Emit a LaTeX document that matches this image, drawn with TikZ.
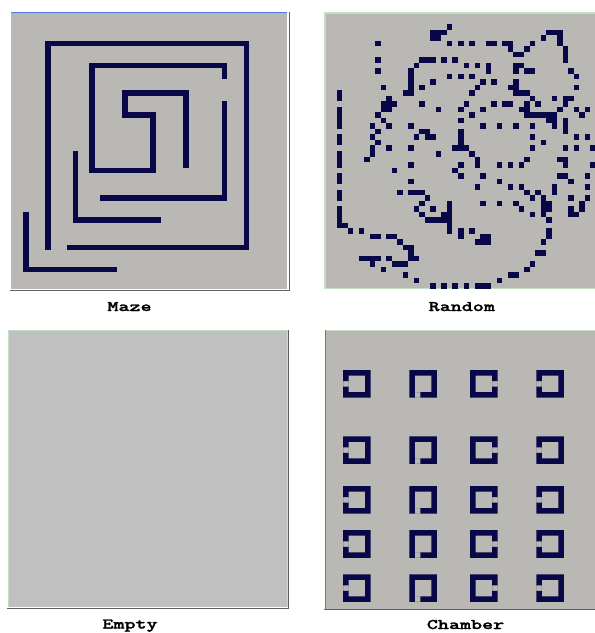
\documentclass[tikz,border=0pt]{standalone}
\usepackage{fontspec}
\newfontfamily\lblfont{lmmonolt10-bold.otf}[FakeStretch=1.43,FakeBold=1.6]
\definecolor{panelgray}{RGB}{186,184,181}
\definecolor{emptygray}{RGB}{192,192,192}
\definecolor{wallblue}{RGB}{8,8,72}
\definecolor{edgeblue}{RGB}{80,120,230}
\definecolor{edgegreen}{RGB}{196,224,196}
\definecolor{shadowgray}{RGB}{96,96,96}

\begin{document}
\begin{tikzpicture}[
  x=1pt, y=-1pt,
  wall/.style={fill=wallblue},
  panel/.style={fill=panelgray},
  cellgrid/.style={x=5.52pt,y=-5.52pt},
  caption/.style={font=\fontsize{14.7}{16}\selectfont\lblfont,anchor=base,inner sep=0pt}
]
  % Page: 595 x 633, y grows downwards, one unit = one pixel.
  \useasboundingbox (0,0) rectangle (595,633);

  % ---- Maze (top left) ----
  \fill[panel] (11,12) rectangle (287,289);
  \draw[edgeblue] (11,12.5) -- (288,12.5);
  \draw[white] (287.5,12) -- (287.5,289);
  \draw[shadowgray] (10,289.8) -- (289.5,289.8) -- (289.5,12);
  \begin{scope}[shift={(12,13)},cellgrid]
    % walls as cell ranges (col,row) rectangle (col+1,row+1)
    \fill[wall] (6,5) rectangle (43,6);
    \fill[wall] (6,5) rectangle (7,43);
    \fill[wall] (42,5) rectangle (43,43);
    \fill[wall] (10,42) rectangle (43,43);
    \fill[wall] (14,9) rectangle (39,10);
    \fill[wall] (38,9) rectangle (39,12);
    \fill[wall] (14,9) rectangle (15,29);
    \fill[wall] (14,28) rectangle (26,29);
    \fill[wall] (25,18) rectangle (26,29);
    \fill[wall] (20,18) rectangle (26,19);
    \fill[wall] (20,14) rectangle (21,19);
    \fill[wall] (20,14) rectangle (32,15);
    \fill[wall] (31,14) rectangle (32,28);
    \fill[wall] (38,16) rectangle (39,34);
    \fill[wall] (16,33) rectangle (39,34);
    \fill[wall] (11,25) rectangle (12,38);
    \fill[wall] (11,37) rectangle (27,38);
    \fill[wall] (2,36) rectangle (3,47);
    \fill[wall] (2,46) rectangle (19,47);
  \end{scope}
  \node[caption] (mazecap) at (129.5,311) {Maze};

  % ---- Random (top right) ----
  \fill[panel] (324,12) rectangle (596,289);
  \draw[edgegreen,line width=1.5pt] (596,12.75) -- (324.75,12.75) -- (324.75,288.5) -- (596,288.5);
  \begin{scope}[shift={(325.5,13)},cellgrid]
    \foreach \r/\cl in {
      2/{22}, 3/{19,20,21,40,41,42}, 4/{19,20,39,42},
      5/{9,22,24,26,29,30,32,33,37,42}, 6/{33,36,43}, 7/{34,35,43},
      8/{9,17,18,19,21,23,43}, 9/{16,25,27,29,34,35},
      10/{9,15,29,34,36,37,44}, 11/{15,22,24,26,45},
      12/{15,19,28,30,34}, 13/{10,15,17,27,33,34,45},
      14/{2,14,15,26,34,35,36}, 15/{2,11,37,41,43,44},
      16/{10,11,12,17,25,30,32,33,36,38,43},
      17/{2,10,11,20,24,28,35,36,42,45,47},
      18/{2,9,26,36,37,38,39,40,41,46}, 19/{2,10,24,40,41,43},
      20/{2,8,11,15,28,31,34,37,41,43}, 21/{9,17,18,24,43},
      22/{2,8,16,18,19,24,37,45,47}, 23/{2,9,24,39},
      24/{8,11,15,23,24,25,37,43,45,48}, 25/{2,8,20,26},
      26/{2,7,27,36,42,43}, 27/{2,15,24,27,31,33,35,43,48},
      28/{12,23}, 29/{2,24,28,42,43,47}, 30/{2,15,31,44},
      31/{27,33,35,41,47}, 32/{2,13,15,16,17,36,38,41},
      33/{2,18,37,39,44,47}, 34/{17,22,28,31,34,39,40,46},
      35/{2,16,19,22,35,39,40,44,46}, 36/{2,17,21,22,37,39,44,45},
      37/{2,18,19,20,21,22,40}, 38/{2,3,22}, 39/{4,6,22,24,26,40},
      40/{8,9,11,12,24,28,29,40}, 41/{13,27,28,29,39}, 42/{14,15},
      43/{15,38,39}, 44/{6,7,8,9,11,15,16}, 45/{8,12,13,14,37},
      46/{10,36}, 47/{14,33,34}, 48/{16,31}, 49/{19,21,23,25,27,28,29}}
      {\foreach \c in \cl {\fill[wall] (\c,\r) rectangle ++(1,1);}}
  \end{scope}
  \node[caption] (randomcap) at (461.8,311) {Random};

  % ---- Empty (bottom left) ----
  \fill[emptygray] (8,330) rectangle (288,607);
  \draw[edgegreen,line width=1.2pt] (8.6,607) -- (8.6,330.6) -- (287.4,330.6) -- (287.4,607);
  \draw[shadowgray,line width=0.8pt] (288.6,330) -- (288.6,609);
  \draw[shadowgray,line width=1.6pt] (7,608.6) -- (289,608.6);
  \node[caption] (emptycap) at (130,628.5) {Empty};

  % ---- Chamber (bottom right) ----
  \fill[panel] (325,330) rectangle (596,609);
  \draw[edgegreen] (325,330.5) -- (596,330.5);
  \draw[edgeblue,line width=1.2pt] (325.6,330) -- (325.6,609);
  \draw[shadowgray] (324,609.6) -- (596,609.6);
  \begin{scope}[shift={(326.5,331.5)},cellgrid]
    % 5x5 rings, one wall cell left open: column/gap col/gap row
    \foreach \c/\gx/\gy in {3/0/2, 15/1/4, 26/4/2, 38/0/2}
      \foreach \r in {7,19,28,36,44}
        \fill[wall,even odd rule] (\c,\r) rectangle ++(5,5)
          (\c+1,\r+1) rectangle ++(3,3)
          (\c+\gx,\r+\gy) rectangle ++(1,1);
  \end{scope}
  \node[caption] (chambercap) at (465.5,629) {Chamber};
\end{tikzpicture}
\end{document}
